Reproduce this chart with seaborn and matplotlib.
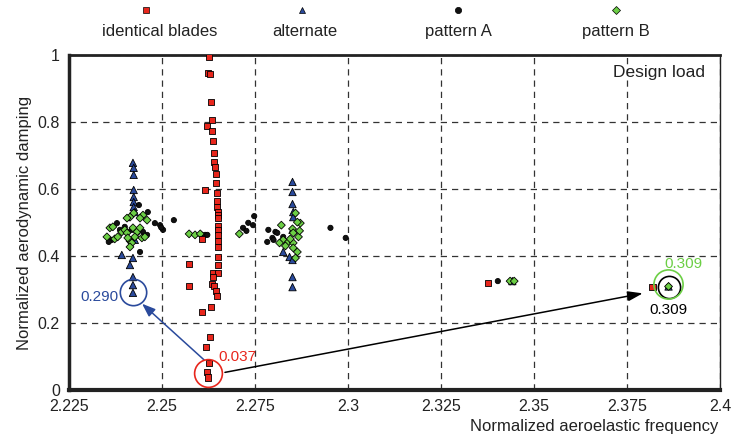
import numpy as np
import matplotlib
matplotlib.use("Agg")
import matplotlib.pyplot as plt
from matplotlib.lines import Line2D
from matplotlib.ticker import MultipleLocator
import seaborn as sns
import pandas as pd

# Datos (frecuencia normalizada, amortiguamiento normalizado)
identical_x = [2.2627, 2.2624, 2.2629, 2.2632, 2.2635, 2.2621, 2.2635, 2.2638, 2.2640, 2.2640,
               2.2643, 2.2646, 2.2646, 2.2616, 2.2648, 2.2648, 2.2648, 2.2651, 2.2651, 2.2651,
               2.2651, 2.2651, 2.2651, 2.2651, 2.2651, 2.2651, 2.2651, 2.2573, 2.2638, 2.2651,
               2.2638, 2.2573, 2.2635, 2.2640, 2.2646, 2.2648, 2.2632, 2.2608, 2.2629, 2.2619,
               2.2627, 2.2621, 2.2624, 2.2608, 2.3377, 2.3819]
identical_y = [0.995, 0.946, 0.943, 0.860, 0.806, 0.788, 0.773, 0.743, 0.707, 0.680,
               0.666, 0.645, 0.618, 0.597, 0.588, 0.564, 0.546, 0.531, 0.522, 0.513,
               0.490, 0.478, 0.463, 0.445, 0.427, 0.397, 0.373, 0.376, 0.349, 0.349,
               0.337, 0.310, 0.316, 0.310, 0.296, 0.280, 0.248, 0.233, 0.158, 0.128,
               0.081, 0.054, 0.037, 0.450, 0.320, 0.307]

alternate_x = [2.2422, 2.2424, 2.2424, 2.2424, 2.2424, 2.2424, 2.2424, 2.2427, 2.2427, 2.2392,
               2.2422, 2.2414, 2.2422, 2.2422, 2.2422,
               2.2851, 2.2851, 2.2851, 2.2853, 2.2853, 2.2851, 2.2826, 2.2843, 2.2851, 2.2851,
               2.2851, 2.3442, 2.3862]
alternate_y = [0.678, 0.663, 0.642, 0.597, 0.576, 0.561, 0.546, 0.531, 0.448, 0.403,
               0.394, 0.373, 0.337, 0.313, 0.290,
               0.621, 0.591, 0.555, 0.531, 0.516, 0.478, 0.412, 0.397, 0.388, 0.337,
               0.307, 0.325, 0.309]

pattern_a_x = [2.2438, 2.2462, 2.2532, 2.2481, 2.2495, 2.2503, 2.2379, 2.2408, 2.2365, 2.2357,
               2.2387, 2.2433, 2.2460, 2.2441, 2.2400, 2.2419, 2.2449, 2.2498,
               2.2605, 2.2616, 2.2622,
               2.2718, 2.2732, 2.2748, 2.2727, 2.2745, 2.2786, 2.2805, 2.2810, 2.2783, 2.2797,
               2.2800, 2.2826, 2.2953, 2.2994, 2.3403, 2.3862]
pattern_a_y = [0.552, 0.531, 0.507, 0.498, 0.492, 0.478, 0.498, 0.513, 0.448, 0.442,
               0.478, 0.469, 0.463, 0.412, 0.487, 0.478, 0.472, 0.485,
               0.464, 0.463, 0.463,
               0.484, 0.499, 0.519, 0.475, 0.492, 0.478, 0.472, 0.469, 0.442, 0.454,
               0.448, 0.457, 0.484, 0.454, 0.325, 0.309]

pattern_b_x = [2.2424, 2.2414, 2.2406, 2.2449, 2.2460, 2.2441, 2.2360, 2.2368, 2.2352, 2.2373,
               2.2381, 2.2392, 2.2400, 2.2406, 2.2422, 2.2433, 2.2441, 2.2427, 2.2446, 2.2414,
               2.2419, 2.2454, 2.2414, 2.2408,
               2.2573, 2.2589, 2.2603, 2.2708,
               2.2859, 2.2872, 2.2864, 2.2821, 2.2851, 2.2853, 2.2867, 2.2826, 2.2840, 2.2816,
               2.2853, 2.2832, 2.2853, 2.2864, 2.2859, 2.2845, 2.2870,
               2.3436, 2.3447, 2.3862]
pattern_b_y = [0.528, 0.516, 0.513, 0.522, 0.507, 0.513, 0.484, 0.487, 0.457, 0.451,
               0.457, 0.472, 0.478, 0.469, 0.484, 0.472, 0.484, 0.457, 0.454, 0.445,
               0.439, 0.457, 0.427, 0.454,
               0.466, 0.463, 0.466, 0.466,
               0.528, 0.498, 0.501, 0.492, 0.481, 0.469, 0.457, 0.448, 0.442, 0.439,
               0.439, 0.430, 0.424, 0.412, 0.394, 0.451, 0.475,
               0.325, 0.325, 0.309]

config_names = ["identical blades", "alternate", "pattern A", "pattern B"]
x_ticks = [2.225, 2.25, 2.275, 2.3, 2.325, 2.35, 2.375, 2.4]
x_labels = ["2.225", "2.25", "2.275", "2.3", "2.325", "2.35", "2.375", "2.4"]
y_ticks = [0, 0.2, 0.4, 0.6, 0.8, 1]
y_labels = ["0", "0.2", "0.4", "0.6", "0.8", "1"]

colores = {"identical blades": "#e8261c", "alternate": "#2a4a9c",
           "pattern A": "#111111", "pattern B": "#6ccf45"}
marcadores = {"identical blades": "s", "alternate": "^", "pattern A": "o", "pattern B": "D"}
tamanos = {"identical blades": 20, "alternate": 28, "pattern A": 14, "pattern B": 16}

# Orden de dibujo: triángulos, puntos, rombos, cuadrados
df = pd.concat([
    pd.DataFrame({"freq": alternate_x, "damp": alternate_y, "config": "alternate"}),
    pd.DataFrame({"freq": pattern_a_x, "damp": pattern_a_y, "config": "pattern A"}),
    pd.DataFrame({"freq": pattern_b_x, "damp": pattern_b_y, "config": "pattern B"}),
    pd.DataFrame({"freq": identical_x, "damp": identical_y, "config": "identical blades"}),
], ignore_index=True)

sns.set_style("white")
plt.rcParams["font.family"] = ["Liberation Sans", "DejaVu Sans"]

fig = plt.figure(figsize=(7.33, 4.37), dpi=100)
ax = fig.add_axes([0.0941, 0.1076, 0.888, 0.7666])

sns.scatterplot(data=df, x="freq", y="damp", hue="config", style="config",
                size="config", palette=colores, markers=marcadores, sizes=tamanos,
                edgecolor="black", linewidth=0.6, legend=False, ax=ax, zorder=3)

ax.set_xticks(x_ticks)
ax.set_xticklabels(x_labels)
ax.set_yticks(y_ticks)
ax.set_yticklabels(y_labels)
ax.xaxis.set_minor_locator(MultipleLocator(0.0125))
ax.yaxis.set_minor_locator(MultipleLocator(0.1))
ax.set_xlim(2.225, 2.4)
ax.set_ylim(0, 1)
ax.tick_params(which="major", direction="inout", length=9, width=1.8, labelsize=11.5,
               colors="#222222", pad=2)
ax.tick_params(which="minor", direction="inout", length=6, width=1.3, colors="#222222")

ax.grid(True, which="major", linestyle=(0, (5, 4)), color="#333333", linewidth=0.9)
ax.set_axisbelow(True)
for lado, ancho in [("bottom", 3), ("left", 2.5), ("top", 2), ("right", 1)]:
    ax.spines[lado].set_linewidth(ancho)
    ax.spines[lado].set_color("#222222")

ax.set_xlabel("")
ax.set_ylabel("Normalized aerodynamic damping", fontsize=12, color="#222222", labelpad=4)
fig.text(0.98, 0.025, "Normalized aeroelastic frequency", ha="right", va="center",
         fontsize=12, color="#222222")
ax.text(0.977, 0.948, "Design load", transform=ax.transAxes, ha="right", va="center",
        fontsize=12.5, color="#222222")

# Círculos y flechas de anotación
ax.plot([2.2422], [0.293], marker="o", markersize=19, markerfacecolor="none",
        markeredgecolor="#2a4a9c", markeredgewidth=1.2, zorder=4)
ax.plot([2.2624], [0.050], marker="o", markersize=20, markerfacecolor="none",
        markeredgecolor="#e8261c", markeredgewidth=1.2, zorder=4)
ax.plot([2.3862], [0.308], marker="o", markersize=16, markerfacecolor="none",
        markeredgecolor="black", markeredgewidth=1.2, zorder=4)
ax.plot([2.3860], [0.316], marker="o", markersize=21, markerfacecolor="none",
        markeredgecolor="#6ccf45", markeredgewidth=1.2, zorder=4)

ax.annotate("", xy=(2.2441, 0.263), xytext=(2.2619, 0.084),
            arrowprops=dict(arrowstyle="-|>,head_length=0.8,head_width=0.3",
                            color="#2a4a9c", lw=1.1))
ax.annotate("", xy=(2.3800, 0.290), xytext=(2.2662, 0.051),
            arrowprops=dict(arrowstyle="-|>,head_length=0.9,head_width=0.3",
                            color="black", lw=1.1))

ax.text(2.2383, 0.278, "0.290", color="#2a4a9c", ha="right", va="center", fontsize=11)
ax.text(2.2652, 0.099, "0.037", color="#e8261c", ha="left", va="center", fontsize=11)
ax.text(2.3902, 0.377, "0.309", color="#6ccf45", ha="center", va="center", fontsize=11)
ax.text(2.3862, 0.239, "0.309", color="black", ha="center", va="center", fontsize=11)

# Leyenda: marcador encima del texto
leyenda_x = [0.199, 0.412, 0.625, 0.840]
texto_x = [0.218, 0.416, 0.625, 0.840]
for nombre, mx, tx in zip(config_names, leyenda_x, texto_x):
    fig.add_artist(Line2D([mx], [0.977], transform=fig.transFigure, marker=marcadores[nombre],
                          markersize=4.5, color=colores[nombre], markeredgecolor="black",
                          markeredgewidth=0.5, linestyle="none"))
    fig.text(tx, 0.928, nombre, ha="center", va="center", fontsize=12, color="#222222")

plt.savefig("out.png", dpi=100)
